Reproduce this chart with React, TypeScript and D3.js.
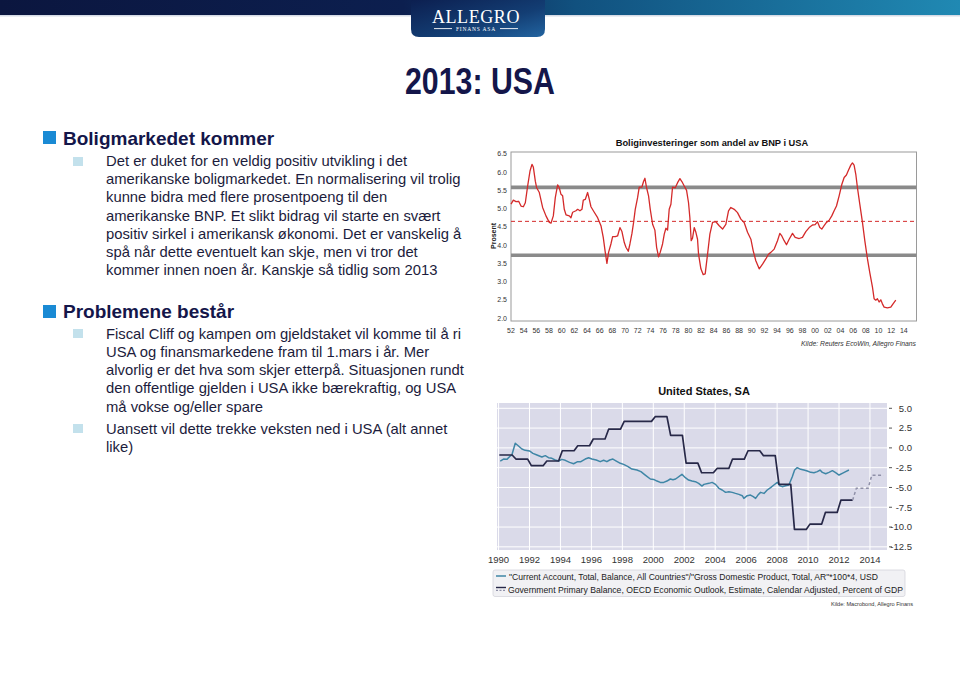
import React from 'react';
import * as d3 from 'd3';

// ---------- Data: housing investment share of GDP (USA) ----------
const housingYears = [
  1952.0, 1952.37, 1952.79, 1953.21, 1953.58, 1953.95, 1954.26, 1954.63, 1955.0, 1955.31, 1955.52, 1955.84,
  1956.05, 1956.47, 1956.99, 1957.52, 1957.78, 1958.05, 1958.31, 1958.68, 1958.99, 1959.36, 1959.62, 1959.89,
  1960.15, 1960.41, 1960.68, 1961.2, 1961.46, 1961.73, 1962.25, 1962.52, 1962.88, 1963.2, 1963.41, 1963.72,
  1964.09, 1964.36, 1964.62, 1965.14, 1965.67, 1966.2, 1966.56, 1966.88, 1967.14, 1967.4, 1967.77, 1968.04,
  1968.46, 1968.82, 1969.19, 1969.51, 1969.88, 1970.14, 1970.51, 1970.77, 1971.09, 1971.35, 1971.61, 1971.98,
  1972.24, 1972.66, 1972.93, 1973.14, 1973.4, 1973.71, 1973.98, 1974.35, 1974.71, 1974.98, 1975.29, 1975.55,
  1975.92, 1976.19, 1976.45, 1976.71, 1976.97, 1977.24, 1977.5, 1977.92, 1978.29, 1978.66, 1978.97, 1979.34,
  1979.71, 1980.02, 1980.23, 1980.44, 1980.65, 1980.92, 1981.18, 1981.44, 1981.6, 1981.97, 1982.34, 1982.65,
  1983.02, 1983.39, 1983.81, 1984.33, 1984.86, 1985.39, 1985.91, 1986.33, 1986.7, 1987.23, 1987.75, 1988.28,
  1988.8, 1989.33, 1989.86, 1990.22, 1990.64, 1991.17, 1991.7, 1992.22, 1992.64, 1993.01, 1993.54, 1994.06,
  1994.43, 1994.74, 1995.11, 1995.48, 1995.9, 1996.43, 1996.85, 1997.48, 1998.0, 1998.53, 1999.06, 1999.58,
  2000.0, 2000.37, 2000.74, 2001.05, 2001.42, 2001.79, 2002.21, 2002.63, 2003.0, 2003.37, 2003.79, 2004.21,
  2004.58, 2004.94, 2005.26, 2005.63, 2005.89, 2006.15, 2006.42, 2006.68, 2007.05, 2007.47, 2007.84, 2008.26,
  2008.62, 2009.05, 2009.31, 2009.57, 2009.83, 2010.1, 2010.36, 2010.62, 2010.89, 2011.41, 2011.94, 2012.3,
  2012.73,
];
const housingValues = [
  5.12, 5.23, 5.19, 5.2, 5.07, 5.05, 5.16, 5.62, 6.03, 6.21, 6.14, 5.75,
  5.57, 5.44, 5.03, 4.8, 4.71, 4.62, 4.6, 4.8, 5.3, 5.65, 5.57, 5.39,
  5.35, 4.98, 4.83, 4.8, 4.75, 4.9, 4.94, 4.98, 4.94, 4.98, 5.23, 5.25,
  5.44, 5.25, 5.05, 4.9, 4.75, 4.53, 4.21, 3.8, 3.5, 3.8, 4.03, 4.23,
  4.23, 4.25, 4.48, 4.37, 4.07, 3.94, 3.83, 4.03, 4.32, 4.62, 4.98, 5.3,
  5.59, 5.59, 5.75, 5.83, 5.57, 5.35, 4.98, 4.57, 4.41, 3.94, 3.68, 3.8,
  4.03, 4.3, 4.46, 4.41, 4.98, 5.12, 5.59, 5.57, 5.71, 5.82, 5.74, 5.62,
  5.5, 5.16, 4.75, 4.12, 4.19, 4.48, 4.35, 4.16, 3.75, 3.35, 3.19, 3.21,
  3.75, 4.3, 4.62, 4.64, 4.53, 4.44, 4.57, 4.94, 5.03, 4.98, 4.89, 4.71,
  4.62, 4.35, 4.16, 3.85, 3.57, 3.35, 3.48, 3.62, 3.75, 3.8, 3.89, 4.12,
  4.32, 4.25, 4.12, 4.01, 4.16, 4.32, 4.21, 4.18, 4.21, 4.37, 4.48, 4.55,
  4.56, 4.64, 4.48, 4.44, 4.53, 4.62, 4.68, 4.8, 4.94, 5.07, 5.35, 5.66,
  5.85, 5.92, 6.05, 6.19, 6.25, 6.19, 5.94, 5.57, 5.12, 4.62, 4.12, 3.62,
  3.25, 2.85, 2.53, 2.49, 2.53, 2.44, 2.5, 2.39, 2.3, 2.28, 2.3, 2.39,
  2.49,
];
const housingBands = [5.58, 3.72];
const housingMean = 4.65;
const housingYTicks = [2.0, 2.5, 3.0, 3.5, 4.0, 4.5, 5.0, 5.5, 6.0, 6.5];
const housingXTicks = [
  1952, 1954, 1956, 1958, 1960, 1962, 1964, 1966, 1968, 1970, 1972, 1974, 1976, 1978, 1980, 1982,
  1984, 1986, 1988, 1990, 1992, 1994, 1996, 1998, 2000, 2002, 2004, 2006, 2008, 2010, 2012, 2014,
];

// ---------- Data: United States current account & primary balance ----------
const caYears = [
  1990.11, 1990.32, 1990.54, 1990.71, 1990.86, 1991.08, 1991.29, 1991.51, 1991.72, 1992.0, 1992.22, 1992.48,
  1992.8, 1993.02, 1993.23, 1993.45, 1993.66, 1993.88, 1994.09, 1994.31, 1994.59, 1994.85, 1995.11, 1995.32,
  1995.6, 1995.82, 1996.03, 1996.31, 1996.57, 1996.79, 1997.0, 1997.18, 1997.39, 1997.61, 1997.87, 1998.08,
  1998.34, 1998.62, 1998.94, 1999.2, 1999.48, 1999.81, 2000.02, 2000.24, 2000.45, 2000.67, 2000.88, 2001.1,
  2001.27, 2001.44, 2001.85, 2002.07, 2002.28, 2002.5, 2002.72, 2002.93, 2003.15, 2003.27, 2003.59, 2003.8,
  2004.02, 2004.24, 2004.45, 2004.67, 2004.88, 2005.1, 2005.31, 2005.53, 2005.75, 2005.85, 2006.07, 2006.28,
  2006.46, 2006.61, 2006.76, 2006.93, 2007.15, 2007.36, 2007.58, 2007.79, 2008.01, 2008.18, 2008.33, 2008.55,
  2008.76, 2008.98, 2009.13, 2009.3, 2009.52, 2009.73, 2009.95, 2010.17, 2010.38, 2010.6, 2010.77, 2010.92,
  2011.14, 2011.35, 2011.57, 2011.78, 2012.0, 2012.21, 2012.43, 2012.64,
];
const caValues = [
  -1.66, -1.41, -1.45, -1.11, -0.9, 0.58, 0.24, -0.14, -0.31, -0.39, -0.69, -0.9,
  -1.15, -0.98, -1.24, -1.32, -1.53, -1.66, -1.45, -1.57, -1.83, -2.0, -1.74, -1.74,
  -1.41, -1.24, -1.41, -1.53, -1.74, -1.57, -1.74, -1.53, -1.41, -1.66, -1.95, -2.08,
  -2.33, -2.67, -2.8, -3.0, -3.43, -3.93, -3.98, -4.19, -4.36, -4.36, -4.19, -3.93,
  -4.02, -3.93, -3.34, -3.77, -4.06, -4.19, -4.27, -4.48, -4.82, -4.61, -4.48, -4.36,
  -4.61, -5.11, -5.32, -5.62, -5.54, -5.62, -5.75, -5.87, -6.04, -6.38, -6.04, -5.96,
  -6.17, -6.38, -5.96, -5.62, -5.75, -5.32, -5.03, -4.69, -4.36, -4.78, -4.9, -4.78,
  -4.69, -3.64, -2.8, -2.5, -2.71, -2.8, -2.92, -3.09, -3.13, -3.0, -2.8, -3.09,
  -3.26, -3.09, -2.88, -3.13, -3.43, -3.22, -3.0, -2.8,
];
const govYears = [
  1990, 1991, 1992, 1993, 1994, 1995, 1996, 1997, 1998, 1999, 2000, 2001,
  2002, 2003, 2004, 2005, 2006, 2007, 2008, 2009, 2010, 2011, 2012,
];
const govValues = [
  -0.9, -1.41, -2.25, -1.66, -0.36, 0.27, 1.12, 2.38, 3.35, 3.35, 3.94, 1.58,
  -1.92, -3.14, -2.6, -1.41, -0.36, -0.99, -4.6, -10.3, -9.63, -8.15, -6.6,
];
const govForecastYears = [2013, 2014];
const govForecastValues = [-5.1, -3.45];
const usYTicks = [5.0, 2.5, 0.0, -2.5, -5.0, -7.5, -10.0, -12.5];
const usXTicks = [1990, 1992, 1994, 1996, 1998, 2000, 2002, 2004, 2006, 2008, 2010, 2012, 2014];

// ---------- Slide text ----------
const heading1 = 'Boligmarkedet kommer';
const bullet1Lines = [
  'Det er duket for en veldig positiv utvikling i det',
  'amerikanske boligmarkedet. En normalisering vil trolig',
  'kunne bidra med flere prosentpoeng til den',
  'amerikanske BNP. Et slikt bidrag vil starte en svært',
  'positiv sirkel i amerikansk økonomi. Det er vanskelig å',
  'spå når dette eventuelt kan skje, men vi tror det',
  'kommer innen noen år. Kanskje så tidlig som 2013',
];
const heading2 = 'Problemene består';
const bullet2Lines = [
  'Fiscal Cliff og kampen om gjeldstaket vil komme til å ri',
  'USA og finansmarkedene fram til 1.mars i år. Mer',
  'alvorlig er det hva som skjer etterpå. Situasjonen rundt',
  'den offentlige gjelden i USA ikke bærekraftig, og USA',
  'må vokse og/eller spare',
];
const bullet3Lines = ['Uansett vil dette trekke veksten ned i USA (alt annet', 'like)'];

const SANS = '"Liberation Sans", Arial, Helvetica, sans-serif';
const NAVY_TEXT = '#14164a';
const BODY_TEXT = '#1c1c3c';

export default function App() {
  // Top chart scales
  const xH = d3.scaleLinear().domain([1952, 2016]).range([511, 916.5]);
  const yH = d3.scaleLinear().domain([1.92, 6.55]).range([321, 152]);
  const housingPts: [number, number][] = housingYears.map((y, i) => [y, housingValues[i]]);
  const hLine = d3.line<[number, number]>().x(d => xH(d[0])).y(d => yH(d[1]));

  // Bottom chart scales
  const xC = d3.scaleLinear().domain([1989.9, 2015.1]).range([497, 887]);
  const yC = d3.scaleLinear().domain([-12.9, 5.67]).range([550, 403]);
  const cLine = d3.line<[number, number]>().x(d => xC(d[0])).y(d => yC(d[1]));
  const caPts: [number, number][] = caYears.map((y, i) => [y, caValues[i]]);
  const govPts: [number, number][] = [];
  govYears.forEach((y, i) => {
    govPts.push([i === 0 ? y + 0.05 : y + 0.12, govValues[i]]);
    govPts.push([y + 0.88, govValues[i]]);
  });
  const lastGov = govPts[govPts.length - 1];
  const fcPts: [number, number][] = [lastGov];
  govForecastYears.forEach((y, i) => {
    fcPts.push([y + 0.12, govForecastValues[i]]);
    fcPts.push([y + 0.88, govForecastValues[i]]);
  });

  const [hx0, hx1] = xH.range();
  const [hy0, hy1] = yH.range();
  const [cx0, cx1] = xC.range();
  const [cy0, cy1] = yC.range();

  return (
    <svg width={960} height={679} style={{ position: 'absolute', left: 0, top: 0, background: '#fff' }}
      fontFamily={SANS}>
      <defs>
        <linearGradient id="band" x1="0" x2="1" y1="0" y2="0">
          <stop offset="0" stopColor="#0b163f" />
          <stop offset="0.42" stopColor="#0c1f4f" />
          <stop offset="0.6" stopColor="#11517f" />
          <stop offset="1" stopColor="#2089b3" />
        </linearGradient>
        <linearGradient id="tab" x1="0" x2="1" y1="0" y2="1">
          <stop offset="0" stopColor="#0c1f50" />
          <stop offset="0.6" stopColor="#133e74" />
          <stop offset="1" stopColor="#2264a0" />
        </linearGradient>
      </defs>
      <rect x={0} y={0} width={960} height={679} fill="#fff" />

      {/* Header band + logo */}
      <rect x={0} y={0} width={960} height={15} fill="url(#band)" />
      <rect x={0} y={15} width={960} height={1.5} fill="#d5dbe6" />
      <path d="M411,0 H545 V29 Q545,37 537,37 H419 Q411,37 411,29 Z" fill="url(#tab)" />
      <text x={476} y={22.5} textAnchor="middle" fill="#fff" fontFamily='"Liberation Serif", "DejaVu Serif", serif'
        fontSize={18} letterSpacing={0.6}>ALLEGRO</text>
      <line x1={434} x2={452} y1={28.6} y2={28.6} stroke="#fff" strokeWidth={0.9} />
      <line x1={500} x2={518} y1={28.6} y2={28.6} stroke="#fff" strokeWidth={0.9} />
      <text x={476} y={30.6} textAnchor="middle" fill="#fff" fontFamily='"Liberation Serif", serif'
        fontSize={5.5} letterSpacing={0.8}>FINANS ASA</text>

      {/* Title */}
      <text x={405} y={94} fill={NAVY_TEXT} fontFamily='"Liberation Sans Narrow", "Liberation Sans", Arial, sans-serif'
        fontWeight="bold" fontSize={36} textLength={150} lengthAdjust="spacingAndGlyphs">2013: USA</text>

      {/* Left text: section 1 */}
      <rect x={43} y={131} width={13} height={13} fill="#1a8ad4" />
      <text x={63} y={145} fill={NAVY_TEXT} fontWeight="bold" fontSize={19}>{heading1}</text>
      <rect x={73} y={157} width={10} height={9} fill="#c3e1ec" />
      {bullet1Lines.map((t, i) => (
        <text key={'b1' + i} x={106} y={166 + i * 18.2} fill={BODY_TEXT} fontSize={14.8}>{t}</text>
      ))}

      {/* Left text: section 2 */}
      <rect x={43} y={305} width={13} height={13} fill="#1a8ad4" />
      <text x={63} y={318} fill={NAVY_TEXT} fontWeight="bold" fontSize={19}>{heading2}</text>
      <rect x={73} y={329} width={10} height={9} fill="#c3e1ec" />
      {bullet2Lines.map((t, i) => (
        <text key={'b2' + i} x={106} y={338.5 + i * 18.3} fill={BODY_TEXT} fontSize={14.8}>{t}</text>
      ))}
      <rect x={73} y={424} width={10} height={9} fill="#c3e1ec" />
      {bullet3Lines.map((t, i) => (
        <text key={'b3' + i} x={106} y={433.5 + i * 18.3} fill={BODY_TEXT} fontSize={14.8}>{t}</text>
      ))}

      {/* ---------- Top chart ---------- */}
      <text x={712} y={146} textAnchor="middle" fontWeight="bold" fontSize={9.3} fill="#111">
        Boliginvesteringer som andel av BNP i USA
      </text>
      <rect x={hx0} y={hy1} width={hx1 - hx0} height={hy0 - hy1} fill="#fff" stroke="#9a9a9a" strokeWidth={1} />
      {housingBands.map((b, i) => (
        <line key={'band' + i} x1={hx0} x2={hx1} y1={yH(b)} y2={yH(b)} stroke="#8a8a8a" strokeWidth={3.6} />
      ))}
      <line x1={hx0} x2={hx1} y1={yH(housingMean)} y2={yH(housingMean)} stroke="#d42a2a" strokeWidth={1}
        strokeDasharray="4,3" />
      <path d={hLine(housingPts) || ''} fill="none" stroke="#d42a2a" strokeWidth={1.3} strokeLinejoin="round" />
      {housingYTicks.map(t => (
        <text key={'hy' + t} x={507} y={yH(t) + 2.5} textAnchor="end" fontSize={7} fill="#333">{t.toFixed(1)}</text>
      ))}
      {housingXTicks.map(t => (
        <text key={'hx' + t} x={xH(t)} y={332.5} textAnchor="middle" fontSize={7} fill="#333">
          {String(t % 100).padStart(2, '0')}
        </text>
      ))}
      <text transform={`translate(495.5,${yH(4.25)}) rotate(-90)`} textAnchor="middle" fontSize={7}
        fontWeight="bold" fill="#222">Prosent</text>
      <text x={916} y={346} textAnchor="end" fontSize={6.8} fontStyle="italic" fill="#333">
        Kilde: Reuters EcoWin, Allegro Finans
      </text>

      {/* ---------- Bottom chart ---------- */}
      <text x={704} y={395} textAnchor="middle" fontWeight="bold" fontSize={11} fill="#111">United States, SA</text>
      <rect x={cx0} y={cy1} width={cx1 - cx0} height={cy0 - cy1} fill="#dadae9" />
      {usYTicks.map(t => (
        <line key={'gy' + t} x1={cx0} x2={cx1} y1={yC(t)} y2={yC(t)} stroke="#fff" strokeWidth={1} />
      ))}
      {usXTicks.map(t => (
        <line key={'gx' + t} x1={xC(t)} x2={xC(t)} y1={cy1} y2={cy0} stroke="#fff" strokeWidth={1} />
      ))}
      <path d={cLine(caPts) || ''} fill="none" stroke="#3f86a6" strokeWidth={1.5} strokeLinejoin="round" />
      <path d={cLine(govPts) || ''} fill="none" stroke="#272848" strokeWidth={1.7} strokeLinejoin="round" />
      <path d={cLine(fcPts) || ''} fill="none" stroke="#8f90a8" strokeWidth={1.5} strokeDasharray="3,2.5" />
      {usYTicks.map(t => (
        <g key={'uy' + t}>
          <line x1={cx1 + 2} x2={cx1 + 5} y1={yC(t)} y2={yC(t)} stroke="#555" strokeWidth={1} />
          <text x={912} y={yC(t) + 3.3} textAnchor="end" fontSize={9.5} fill="#333">{t.toFixed(1)}</text>
        </g>
      ))}
      {usXTicks.map(t => (
        <text key={'ux' + t} x={xC(t)} y={563} textAnchor="middle" fontSize={9.5} fill="#333">{t}</text>
      ))}

      {/* Legend */}
      <rect x={493} y={570} width={412} height={26.5} rx={2} fill="#f1f1f4" stroke="#d4d4dc" strokeWidth={0.8} />
      <line x1={496} x2={506} y1={576} y2={576} stroke="#3f86a6" strokeWidth={1.5} />
      <text x={509} y={579.5} fontSize={8.65} fill="#222" textLength={369} lengthAdjust="spacingAndGlyphs">
        "Current Account, Total, Balance, All Countries"/"Gross Domestic Product, Total, AR"*100*4, USD
      </text>
      <line x1={496} x2={506} y1={587.5} y2={587.5} stroke="#272848" strokeWidth={1.4} />
      <line x1={496} x2={506} y1={590.3} y2={590.3} stroke="#8f90a8" strokeWidth={1.2} strokeDasharray="2,1.5" />
      <text x={508} y={592.5} fontSize={8.65} fill="#222" textLength={395} lengthAdjust="spacingAndGlyphs">
        Government Primary Balance, OECD Economic Outlook, Estimate, Calendar Adjusted, Percent of GDP
      </text>
      <text x={913} y={606} textAnchor="end" fontSize={5.6} fill="#333">Kilde: Macrobond, Allegro Finans</text>
    </svg>
  );
}
